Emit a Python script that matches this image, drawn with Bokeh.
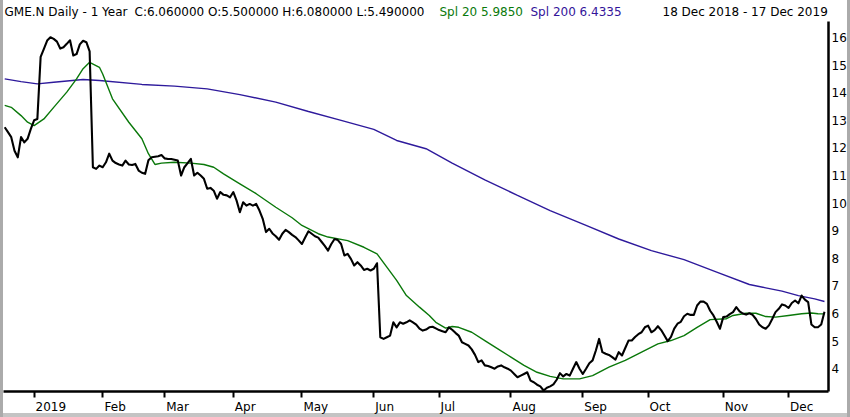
from bokeh.plotting import figure
from bokeh.models import (Range1d, FixedTicker, LabelSet, ColumnDataSource,
                          LinearAxis)
from bokeh.core.properties import value
from bokeh.embed import file_html
from bokeh.resources import INLINE

# ---- data (trading-day index 0 = 18 Dec 2018, 251 = 17 Dec 2019) ----
close = [
    12.75, 12.57, 12.39, 11.90, 11.66, 12.39, 12.20, 12.33, 12.69, 13.00,
    13.05, 15.30, 15.59, 15.89, 16.01, 15.95, 15.85, 15.60, 15.65, 15.77,
    15.90, 15.35, 15.40, 15.75, 15.88, 15.83, 15.50, 11.30, 11.24, 11.36,
    11.30, 11.48, 11.79, 11.54, 11.45, 11.40, 11.36, 11.54, 11.40, 11.38,
    11.42, 11.18, 11.10, 11.06, 11.55, 11.66, 11.68, 11.70, 11.74, 11.62,
    11.60, 11.60, 11.57, 11.54, 11.00, 11.30, 11.45, 11.60, 11.00, 11.10,
    11.00, 10.88, 10.52, 10.55, 10.45, 10.16, 10.40, 10.30, 10.28, 10.21,
    10.40, 10.09, 9.67, 10.03, 9.91, 9.97, 9.91, 9.97, 9.73, 9.43,
    8.95, 9.07, 8.90, 8.80, 8.67, 8.89, 9.03, 8.95, 8.85, 8.77,
    8.65, 8.52, 8.75, 8.98, 8.89, 8.80, 8.75, 8.60, 8.45, 8.28,
    8.52, 8.70, 8.66, 8.52, 8.10, 8.16, 7.98, 7.74, 7.86, 7.74,
    7.58, 7.62, 7.56, 7.62, 7.82, 5.14, 5.08, 5.14, 5.20, 5.68,
    5.50, 5.68, 5.63, 5.68, 5.75, 5.68, 5.60, 5.45, 5.38, 5.42,
    5.50, 5.52, 5.46, 5.40, 5.36, 5.32, 5.50, 5.41, 5.30, 5.20,
    4.96, 4.90, 4.84, 4.70, 4.50, 4.24, 4.30, 4.12, 4.10, 4.05,
    4.00, 4.08, 4.12, 4.05, 4.00, 3.93, 3.81, 3.69, 3.75, 3.81,
    3.87, 3.57, 3.51, 3.42, 3.36, 3.21, 3.31, 3.36, 3.43, 3.60,
    3.84, 3.72, 3.81, 3.75, 4.00, 4.24, 4.00, 3.81, 4.00, 4.20,
    4.30, 4.66, 5.08, 4.60, 4.54, 4.50, 4.42, 4.33, 4.60, 4.48,
    4.75, 5.02, 5.02, 5.15, 5.25, 5.32, 5.50, 5.56, 5.32, 5.40,
    5.54, 5.40, 5.20, 5.00, 5.15, 5.45, 5.63, 5.70, 5.90, 5.99,
    5.95, 5.95, 6.29, 6.43, 6.43, 6.35, 6.10, 5.93, 5.70, 5.45,
    5.87, 5.89, 5.98, 6.05, 6.23, 6.08, 6.00, 5.96, 6.01, 5.95,
    5.80, 5.60, 5.50, 5.45, 5.57, 5.80, 6.05, 6.17, 6.33, 6.29,
    6.20, 6.38, 6.47, 6.37, 6.65, 6.50, 6.41, 5.60, 5.50, 5.50,
    5.60, 6.06,
]

ma20_idx = [0, 2, 5, 7, 9, 12, 15, 19, 22, 24, 26, 29, 30, 33, 38, 42, 44, 46,
            48, 52, 57, 61, 64, 67, 72, 77, 83, 88, 91, 96, 99, 105, 110, 114,
            117, 120, 123, 127, 130, 132, 135, 137, 139, 143, 147, 151, 155,
            159, 163, 167, 171, 176, 180, 185, 190, 195, 200, 204, 208, 212,
            216, 221, 223, 227, 230, 233, 236, 240, 244, 247, 249, 251]
ma20_val = [13.54, 13.47, 13.17, 12.93, 12.81, 13.05, 13.47, 14.02, 14.50, 14.87,
            15.10, 14.92, 14.68, 13.78, 12.93, 12.33, 11.79, 11.40, 11.45, 11.48,
            11.45, 11.40, 11.30, 11.06, 10.70, 10.34, 9.85, 9.47, 9.19, 8.89,
            8.77, 8.64, 8.40, 8.16, 7.68, 7.20, 6.65, 6.23, 5.93, 5.68,
            5.47, 5.53, 5.50, 5.32, 5.02, 4.72, 4.42, 4.12, 3.87, 3.72,
            3.63, 3.63, 3.75, 4.06, 4.30, 4.60, 4.90, 5.02, 5.20, 5.50,
            5.78, 5.81, 5.93, 6.01, 6.01, 5.89, 5.87, 5.93, 5.99, 6.02,
            5.99, 5.985]

ma200_idx = [0, 5, 10, 15, 24, 29, 42, 52, 62, 72, 83, 93, 103, 113, 120, 129,
             137, 147, 157, 167, 178, 188, 198, 208, 218, 228, 233, 238, 243,
             248, 251]
ma200_val = [14.50, 14.40, 14.32, 14.38, 14.48, 14.44, 14.30, 14.24, 14.14, 13.93,
             13.66, 13.32, 13.00, 12.67, 12.27, 11.97, 11.45, 10.84, 10.28, 9.73,
             9.19, 8.70, 8.28, 7.95, 7.50, 7.05, 6.93, 6.81, 6.65, 6.53, 6.4335]

month_idx = [9, 30, 49, 70, 91, 113, 133, 155, 177, 197, 220, 240]
month_labels = ["2019", "Feb", "Mar", "Apr", "May", "Jun", "Jul", "Aug",
                "Sep", "Oct", "Nov", "Dec"]
price_ticks = [4, 5, 6, 7, 8, 9, 10, 11, 12, 13, 14, 15, 16]

header_texts = ["GME.N Daily -  1 Year",
                "C:6.060000 O:5.500000 H:6.080000 L:5.490000",
                "Spl 20 5.9850", "Spl 200 6.4335",
                "18 Dec 2018 - 17 Dec 2019"]

# ---- layout / style ----
FONT = "DejaVu Sans"
W, H = 850, 417
BB, BL, BR = 26, 3, 22
Y0, Y1 = 3.174, 16.58          # price area of the frame
PX = (H - BB - 21) / (Y1 - Y0)  # pixels per price unit
YTOP = Y1 + 21 / PX             # frame extends up over the header line
X0, X1 = -0.37, 252.23
PXI = (W - BL - BR) / (X1 - X0)  # pixels per trading day
header_x = [1, 131, 436, 527, 659]
header_colors = ["black", "black", "#0a7a0a", "#33149a", "black"]

# DejaVu Sans advance widths (em) to left-align month labels at their ticks
ADV = {"0": .636, "1": .636, "2": .636, "9": .636, "F": .575, "e": .615,
       "b": .635, "M": .863, "a": .613, "r": .411, "A": .684, "p": .635,
       "y": .592, "J": .295, "u": .634, "n": .634, "l": .278, "g": .635,
       "S": .635, "O": .787, "c": .550, "t": .392, "N": .748, "o": .612,
       "v": .592, "D": .774}
FS = 12
label_pos = [round(i + (sum(ADV[c] for c in lab) * FS / 2 + 1.5) / PXI, 3)
             for i, lab in zip(month_idx, month_labels)]

p = figure(width=W, height=H, x_range=Range1d(X0, X1),
           y_range=Range1d(Y0, YTOP), output_backend="svg",
           toolbar_location=None, y_axis_location="right",
           min_border_top=0, min_border_bottom=BB,
           min_border_left=BL, min_border_right=BR)
p.outline_line_color = None
p.grid.visible = False
p.background_fill_color = "white"
p.border_fill_color = None
p.styles = {"box-shadow": "inset 3px 0 0 #ababab, inset -3px 0 0 #ababab, "
                          "inset 0 -4px 0 #c4c4c4",
            "background-color": "white"}

# x axis: line + month ticks
xa = p.xaxis[0]
xa.ticker = FixedTicker(ticks=month_idx)
xa.major_label_overrides = {i: "" for i in month_idx}
xa.major_label_text_font_size = "1px"
xa.minor_tick_line_color = None
xa.major_tick_in = 0
xa.major_tick_out = 6
xa.major_tick_line_width = 2
xa.axis_line_width = 2.5
xa.major_label_standoff = 0

# second x axis: month names, starting at their tick
xl = LinearAxis(ticker=FixedTicker(ticks=label_pos),
                major_label_overrides={pos: lab for pos, lab in
                                       zip(label_pos, month_labels)},
                axis_line_color=None, major_tick_line_color=None,
                minor_tick_line_color=None, major_tick_out=0,
                major_tick_in=0, major_label_standoff=2,
                major_label_text_font=FONT,
                major_label_text_font_size=f"{FS}px",
                major_label_text_color="black")
p.add_layout(xl, "below")

ya = p.yaxis[0]
ya.ticker = FixedTicker(ticks=price_ticks)
ya.bounds = (Y0, Y1)
ya.minor_tick_line_color = None
ya.major_tick_in = 0
ya.major_tick_out = 0
ya.axis_line_width = 2.5
ya.major_label_standoff = 3
ya.major_label_text_font = FONT
ya.major_label_text_font_size = "12px"
ya.major_label_text_color = "black"

p.line(ma200_idx, ma200_val, line_color="#2e1a9c", line_width=1.4)
p.line(ma20_idx, ma20_val, line_color="#0a780a", line_width=1.4)
p.line(list(range(len(close))), close, line_color="black", line_width=2.1,
       line_join="round")

# header line (top strip of the frame)
hdr_y = Y1 + 6 / PX
hsrc = ColumnDataSource(dict(x=header_x, y=[hdr_y] * len(header_x),
                             text=header_texts, color=header_colors))
p.add_layout(LabelSet(x="x", y="y", text="text", source=hsrc,
                      x_units="screen", y_units="data",
                      text_color="color", text_align="left",
                      text_baseline="alphabetic", text_font=value(FONT),
                      text_font_size=value("12px")))

open("out.html", "w").write(file_html(p, INLINE))
